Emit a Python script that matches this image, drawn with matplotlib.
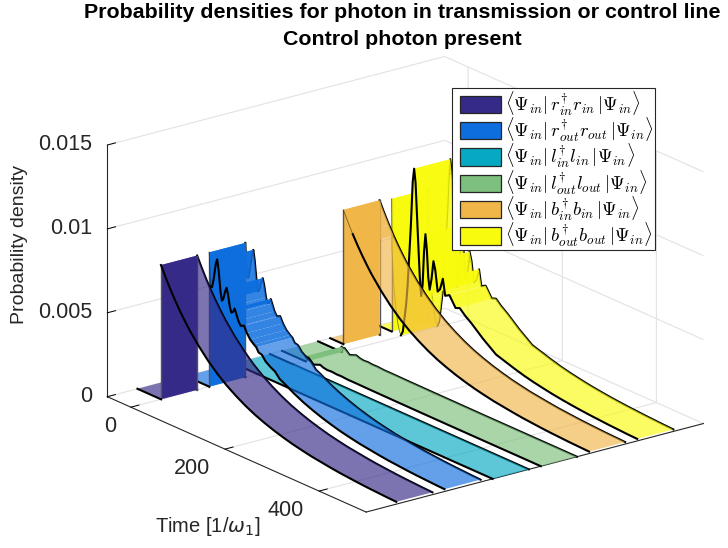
import matplotlib
matplotlib.use('Agg')
import matplotlib.pyplot as plt
from matplotlib.patches import Patch, Rectangle
from matplotlib.font_manager import FontProperties
from mpl_toolkits.mplot3d.art3d import Poly3DCollection

plt.rcParams['font.family'] = ['Liberation Sans', 'DejaVu Sans']

# time [1/w1] and probability density
in_time = [0, 10, 20, 30, 40, 50, 60, 80, 100, 120, 140, 160, 180, 200, 220, 240, 260, 280, 300,
           320, 340, 360, 380, 400, 420, 440, 460, 480, 500]
r_in = [.00800, .00738, .00680, .00627, .00578, .00533, .00491, .00418, .00355, .00301, .00256,
        .00218, .00185, .00157, .00134, .00114, .00097, .00082, .00070, .00059, .00051, .00043,
        .00036, .00031, .00026, .00022, .00019, .00016, .00014]

r_out_time = [0, 3, 6, 10, 14, 17, 20, 24, 27, 30, 34, 37, 40, 44, 47, 51, 54, 57, 62, 67, 74, 80, 87,
              95, 100, 105, 112, 120, 130, 140, 150, 160, 180, 200, 220, 240, 260, 280, 300, 320,
              340, 360, 380, 400, 420, 440, 460, 480, 500]
r_out = [.00800, .00600, .00600, .00660, .00750, .00780, .00720, .00600, .00546, .00560, .00610,
         .00636, .00600, .00530, .00500, .00510, .00533, .00510, .00470, .00446, .00456, .00420,
         .00390, .00370, .00360, .00335, .00330, .00300, .00280, .00265, .00232, .00218, .00185,
         .00157, .00134, .00114, .00097, .00082, .00070, .00059, .00051, .00043, .00036, .00031,
         .00026, .00022, .00019, .00016, .00014]

l_in_time = [0, 500]
l_in = [0, 0]

l_out_time = [0, 3, 6, 12, 17, 24, 31, 38, 46, 56, 66, 76, 90, 110, 140, 200, 300, 500]
l_out = [.00030, .00025, .00030, .00015, .00002, .00010, .00018, .00010, .00006, .00008, .00005,
         .00006, .00003, .00003, .00002, .00001, 0, 0]

b_in_time = [-22, -12, -2, 8, 18, 28, 38, 58, 78, 98, 118, 138, 158, 178, 198, 218, 238, 258, 278,
             298, 318, 338, 358, 378, 398, 418, 438, 458, 478, 500]
b_in = [.00800, .00738, .00680, .00627, .00578, .00533, .00491, .00418, .00355, .00301, .00256,
        .00218, .00185, .00157, .00134, .00114, .00097, .00082, .00070, .00059, .00051, .00043,
        .00036, .00031, .00026, .00022, .00019, .00016, .00014, .00012]

b_out_time = [-22, -21, -18, -14, -9, -5, -2, 2, 5, 9, 12, 16, 19, 23, 26, 29, 34, 38, 41, 44, 47, 50,
              53, 56, 59, 63, 67, 71, 76, 81, 87, 92, 101, 114, 123, 134, 148, 172, 200, 220, 240,
              260, 280, 300, 320, 340, 360, 380, 400, 420, 440, 460, 480, 500]
b_out = [.00790, .00490, .00300, .00180, .00070, .00020, .00002, .00030, .00100, .00200, .00310,
         .00520, .00680, .00950, .01030, .00950, .00640, .00400, .00290, .00360, .00560, .00670,
         .00580, .00420, .00350, .00420, .00530, .00480, .00360, .00380, .00450, .00355, .00370,
         .00310, .00320, .00290, .00260, .00200, .00140, .00122, .00104, .00088, .00075, .00064,
         .00054, .00046, .00039, .00033, .00028, .00024, .00020, .00017, .00014, .00012]

times = [in_time, r_out_time, l_in_time, l_out_time, b_in_time, b_out_time]
series = [r_in, r_out, l_in, l_out, b_in, b_out]
colors = ['#352a87', '#0f6ede', '#07a9c2', '#7dbf7c', '#f0b648', '#f9fb0e']
labels = [r'$\langle\Psi_{in}|\, r_{in}^{\dagger}r_{in}\, |\Psi_{in}\rangle$',
          r'$\langle\Psi_{in}|\, r_{out}^{\dagger}r_{out}\, |\Psi_{in}\rangle$',
          r'$\langle\Psi_{in}|\, l_{in}^{\dagger}l_{in}\, |\Psi_{in}\rangle$',
          r'$\langle\Psi_{in}|\, l_{out}^{\dagger}l_{out}\, |\Psi_{in}\rangle$',
          r'$\langle\Psi_{in}|\, b_{in}^{\dagger}b_{in}\, |\Psi_{in}\rangle$',
          r'$\langle\Psi_{in}|\, b_{out}^{\dagger}b_{out}\, |\Psi_{in}\rangle$']

# where the curve folds over itself, and where the first drop of the near edge ends
fold_end = [0, 100, 0, 0, 0, 123]
drop_end = [0, 3, 0, 0, 0, -2]

time_ticks = [0, 200, 400]
density_ticks = [0, 0.005, 0.01, 0.015]
density_labels = ['0', '0.005', '0.01', '0.015']
start_time = -50
half_width = 0.375

fig = plt.figure(figsize=(7.28, 5.48), dpi=100)
ax = fig.add_axes([0.106, -0.1175, 0.878, 1.166], projection='3d', proj_type='ortho',
                  computed_zorder=False)
ax.view_init(elev=20, azim=-37.5)
ax.set_box_aspect((1, 1, 0.63))
ax.set_xlim(-50, 500)
ax.set_ylim(0, 7)
ax.set_zlim(0, 0.015)

for axis in [ax.xaxis, ax.yaxis, ax.zaxis]:
    axis.set_pane_color((1, 1, 1, 0))
    axis.pane.set_edgecolor('none')
    axis.line.set_color('#262626')
    axis.line.set_linewidth(0.8)
    axis._axinfo['grid'].update(color='#e2e2e2', linewidth=0.8)
    axis._axinfo['tick'].update(inward_factor=0, outward_factor=0.3)
    axis._axinfo['tick']['linewidth'] = {True: 0.7, False: 0.5}
    axis._axinfo['tick']['color'] = '#262626'
    axis.label.set_visible(False)
    axis.offsetText.set_visible(False)

ax.set_xticks(time_ticks)
ax.tick_params(axis='x', labelbottom=False, labeltop=False)
ax.set_yticks([])
ax.set_zticks(density_ticks)
ax.set_zticklabels(density_labels, fontsize=15.5, color='#262626', ha='right', va='center')
ax.zaxis.set_ticks_position('lower')
ax.tick_params(axis='z', pad=-2)

for t in time_ticks:
    ax.text(t, -0.31, -0.0009, str(t), fontsize=15.5, color='#262626', ha='right', va='center')

# one ribbon per series, far ones first
for i in range(5, -1, -1):
    t = times[i]
    z = series[i]
    y = i + 1
    near = y - half_width
    far = y + half_width
    base = (6 - i) * 10

    flat = [[(start_time, near, 0), (t[0], near, 0), (t[0], far, 0), (start_time, far, 0)]]
    ax.add_collection3d(Poly3DCollection(flat, facecolors=colors[i], alpha=0.65, edgecolors='none',
                                         zorder=base))
    ax.plot([start_time, t[0]], [far, far], [0, 0], color='k', lw=1.5, zorder=base + 1)
    ax.plot(t, [far] * len(t), z, color='k', lw=1.5, zorder=base + 1)

    if z[0] > 0:
        wall = [[(t[0], near, 0), (t[0], near, z[0]), (t[0], far, z[0]), (t[0], far, 0)]]
        ax.add_collection3d(Poly3DCollection(wall, facecolors=colors[i], edgecolors='none',
                                             zorder=base + 2))
        ax.plot([t[0], t[0]], [near, near], [0, z[0]], color='#555555', lw=1.0, zorder=base + 3)
        ax.plot([t[0], t[0]], [far, far], [0, z[0]], color='#555555', lw=1.0, zorder=base + 3)

    # folded part as single denser facets, the rest as one smooth sheet
    k0 = 0
    facets = []
    for k in range(len(t) - 1):
        if t[k] < fold_end[i]:
            facets.append([(t[k], near, z[k]), (t[k + 1], near, z[k + 1]),
                           (t[k + 1], far, z[k + 1]), (t[k], far, z[k])])
            k0 = k + 1
    if facets:
        ax.add_collection3d(Poly3DCollection(facets, facecolors=colors[i], alpha=0.85,
                                             edgecolors='none', zorder=base + 4))
    rest = [(t[k], near, z[k]) for k in range(k0, len(t))]
    rest += [(t[k], far, z[k]) for k in range(len(t) - 1, k0 - 1, -1)]
    ax.add_collection3d(Poly3DCollection([rest], facecolors=colors[i], alpha=0.65, edgecolors='none',
                                         zorder=base + 4))

    ax.plot([start_time, t[0]], [near, near], [0, 0], color='k', lw=1.5, zorder=base + 5)
    drop_t = [v for v in t if v <= drop_end[i]]
    n = len(drop_t)
    if n > 1:
        ax.plot(drop_t, [near] * n, z[:n], color='k', lw=0.6, alpha=0.5, zorder=base + 5)
    m = max(n - 1, 0)
    ax.plot(t[m:], [near] * len(t[m:]), z[m:], color='k', lw=1.5, zorder=base + 5)

# legend box drawn apart, mathtext rows are too tall for the legend's own frame
fig.add_artist(Rectangle((452 / 728, 1 - 250 / 548), 203 / 728, 162 / 548, transform=fig.transFigure,
                         facecolor='white', edgecolor='#262626', linewidth=0.8, zorder=4))
handles = [Patch(facecolor=c, edgecolor='#262626', linewidth=0.9) for c in colors]
legend_font = FontProperties(size=13.5, math_fontfamily='cm')
leg = fig.legend(handles, labels, loc='upper left', bbox_to_anchor=(453 / 728, 1 - 83 / 548),
                 borderaxespad=0, prop=legend_font, frameon=False, handlelength=2.2,
                 handleheight=1.05, handletextpad=0.2, labelspacing=-0.09, borderpad=0.35)

fig.text(402.5 / 728, 1 - 26 / 548,
         'Probability densities for photon in transmission or control line\nControl photon present',
         fontsize=15.4, fontweight='bold', ha='center', va='center', linespacing=1.5, color='k')
fig.text(208 / 728, 1 - 527 / 548, r'Time [1/$\omega_1$]', fontsize=14.5, color='#262626',
         ha='center', va='center')
fig.text(20 / 728, 1 - 245 / 548, 'Probability density', fontsize=14, color='#262626', rotation=90,
         ha='center', va='center')

fig.savefig('out.png', dpi=100)
